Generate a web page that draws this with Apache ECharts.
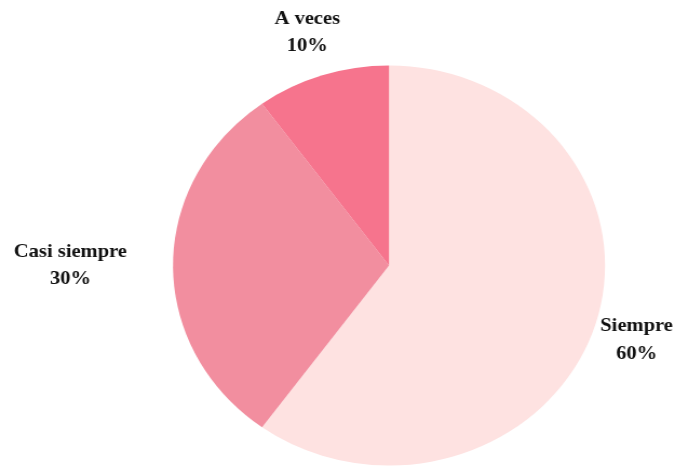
<!DOCTYPE html>
<html>
<head>
<meta charset="utf-8">
<script src="https://cdn.jsdelivr.net/npm/echarts@6/dist/echarts.min.js"></script>
<style>
  html, body { margin: 0; padding: 0; background: #ffffff; overflow: hidden; }
  /* The pie is drawn slightly wider than tall, so the chart is stretched horizontally */
  #chart {
    width: 629.63px;
    height: 466px;
    transform: scaleX(1.08);
    transform-origin: 0 0;
  }
</style>
</head>
<body>
<div id="chart"></div>
<script>
// Response categories and their shares (%)
const categories = ['Siempre', 'Casi siempre', 'A veces'];
const shares = [60, 30, 10];
const sliceColors = ['#FEE2E1', '#F28E9F', '#F6748D'];

// Layout settings
const pieCenter = [360.2, 265.5];
const pieRadius = 200;
const labelDistance = [241, 295, 245]; // distance of each label centre from the pie centre

const total = shares.reduce((a, b) => a + b, 0);
// Mid-angle of every slice, measured clockwise from 12 o'clock
const midAngles = [];
let acc = 0;
shares.forEach(v => {
  midAngles.push(((acc + v / 2) / total) * 2 * Math.PI);
  acc += v;
});

const chart = echarts.init(document.getElementById('chart'), null, { renderer: 'canvas' });

chart.setOption({
  backgroundColor: '#ffffff',
  animation: false,
  series: [{
    type: 'pie',
    center: pieCenter,
    radius: pieRadius,
    startAngle: 90,
    clockwise: true,
    avoidLabelOverlap: false,
    silent: true,
    data: categories.map((name, i) => ({
      name: name,
      value: shares[i],
      itemStyle: { color: sliceColors[i] }
    })),
    itemStyle: { borderWidth: 0 },
    label: {
      show: true,
      position: 'outside',
      formatter: p => p.name + '\n' + p.value + '%',
      fontFamily: '"Times New Roman", "Liberation Serif", serif',
      fontWeight: 'bold',
      fontSize: 19,
      lineHeight: 27.5,
      color: '#111111'
    },
    labelLine: { show: false },
    labelLayout: function (params) {
      const i = params.dataIndex;
      const a = midAngles[i];
      return {
        x: pieCenter[0] + Math.sin(a) * labelDistance[i],
        y: pieCenter[1] - Math.cos(a) * labelDistance[i],
        align: 'center',
        verticalAlign: 'middle'
      };
    }
  }]
});
</script>
</body>
</html>
